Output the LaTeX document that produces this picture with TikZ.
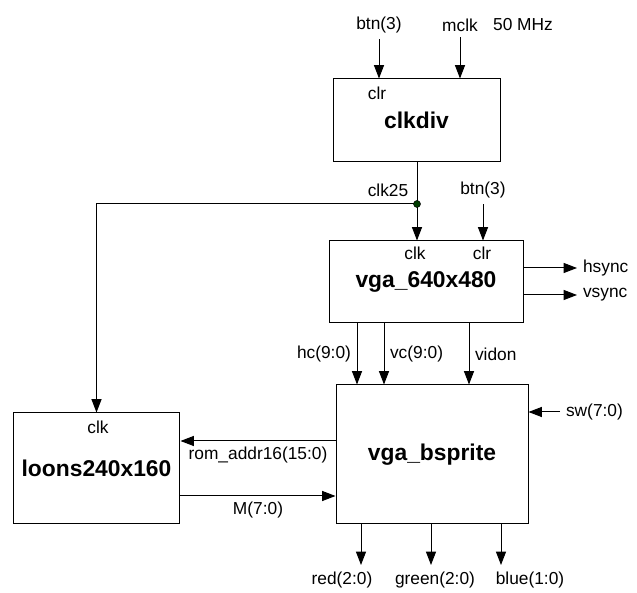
\documentclass[tikz,border=0pt]{standalone}
\usepackage{fontspec}
\setmainfont{Liberation Sans}
\usetikzlibrary{arrows.meta}
\definecolor{tapgreen}{RGB}{0,60,0}

\begin{document}
\begin{tikzpicture}[x=0.6pt, y=-0.6pt, line width=0.6pt,
    >={Triangle[length=8pt,width=6pt]},
    font=\fontsize{10.4}{12}\selectfont,
    block/.style={draw, inner sep=0pt, font=\fontsize{13.7}{16}\selectfont\bfseries}]
    \useasboundingbox (0,0) rectangle (637,593);

    \node[block, minimum width=100.2pt, minimum height=49.8pt] (clkdiv) at (416.5,120.5) {clkdiv};
    \node[block, minimum width=116.4pt, minimum height=49.2pt] (vga) at (426,282) {vga\_640x480};
    \node[block, minimum width=115.2pt, minimum height=83.4pt] (sprite) at (432,454.5) {vga\_bsprite};
    \node[block, minimum width=100.2pt, minimum height=66.6pt] (loons) at (96.5,468.5) {loons240x160};

    \node (divclr) at (377,93) {clr};
    \node (vgaclk) at (415,253) {clk};
    \node (vgaclr) at (482,253) {clr};
    \node (loonsclk) at (98,427) {clk};

    \node (btn) at (379,25) {btn(3)};
    \node (mclk) at (460,25) {mclk};
    \node (freq) at (523,25) {50 MHz};
    \draw[->] (btn) -- (btn |- clkdiv.north);
    \draw[->] (mclk) -- (mclk |- clkdiv.north);

    \coordinate (tap) at (417,204);
    \node (clklbl) at (388,190) {clk25};
    \node (btnb) at (483,190) {btn(3)};
    \draw (clkdiv.south -| tap) -- (tap);
    \draw[->] (tap) -- (vga.north -| tap);
    \draw[->] (tap) -| (loons.north);
    \draw[->] (btnb) -- (btnb |- vga.north);
    \filldraw[fill=tapgreen, draw=black, line width=0.3pt] (tap) circle (2.1pt);

    \coordinate (hs) at (577,268);
    \coordinate (vs) at (577,295);
    \draw[->] (vga.east |- hs) -- (hs) node[right] (hsync) {hsync};
    \draw[->] (vga.east |- vs) -- (vs) node[right] (vsync) {vsync};

    \coordinate (hcx) at (357,352);
    \coordinate (vcx) at (384,352);
    \coordinate (vidx) at (469,352);
    \draw[->] (vga.south -| hcx) -- node[left] (hclbl) {hc(9:0)} (sprite.north -| hcx);
    \draw[->] (vga.south -| vcx) -- node[right] (vclbl) {vc(9:0)} (sprite.north -| vcx);
    \draw[->] (vga.south -| vidx) -- node[right] (vidlbl) {vidon} (sprite.north -| vidx);

    \coordinate (swin) at (560,412);
    \draw[->] (swin) node[right] (swlbl) {sw(7:0)} -- (sprite.east |- swin);

    \coordinate (romy) at (258,441);
    \coordinate (my) at (258,496);
    \draw[->] (sprite.west |- romy) -- node[below] (romlbl) {rom\_addr16(15:0)} (loons.east |- romy);
    \draw[->] (loons.east |- my) -- node[below] (mlbl) {M(7:0)} (sprite.west |- my);

    \coordinate (redout) at (361,565);
    \coordinate (greenout) at (431,565);
    \coordinate (blueout) at (501,565);
    \draw[->] (sprite.south -| redout) -- (redout);
    \draw[->] (sprite.south -| greenout) -- (greenout);
    \draw[->] (sprite.south -| blueout) -- (blueout);
    \node (redlbl) at (342,580) {red(2:0)};
    \node (greenlbl) at (435,580) {green(2:0)};
    \node (bluelbl) at (530,580) {blue(1:0)};
\end{tikzpicture}
\end{document}
